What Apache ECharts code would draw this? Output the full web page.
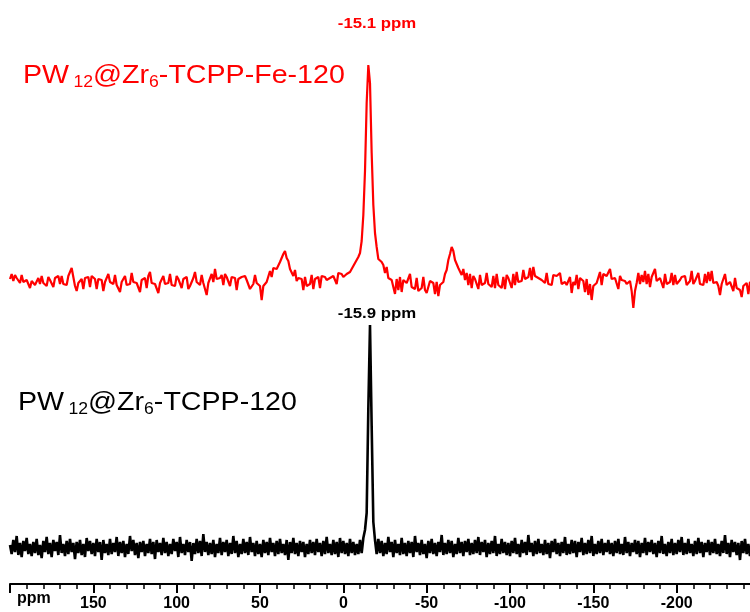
<!DOCTYPE html>
<html>
<head>
<meta charset="utf-8">
<script src="https://cdn.jsdelivr.net/npm/echarts@6/dist/echarts.min.js"></script>
<style>
html,body{margin:0;padding:0;background:#fff;}
#chart{width:750px;height:612px;}
</style>
</head>
<body>
<div id="chart"></div>
<script>
// Chemical shift sampling: first point (ppm) and spacing (ppm per point)
const ppmStart = 200;
const ppmStep = 1;

// Tick labels on the ppm axis
const tickValues = [150, 100, 50, 0, -50, -100, -150, -200];

// Series names and peak annotations
const seriesNames = ['PW12@Zr6-TCPP-Fe-120', 'PW12@Zr6-TCPP-120'];
const peakLabels = ['-15.1 ppm', '-15.9 ppm'];

// Intensity (arbitrary units) of PW12@Zr6-TCPP-Fe-120, from 200 ppm downwards
const redIntensity = [
  4, 9, 2, 8, 5, 7, 0, 8, 1, -1, 3, 2, -5, 2, 0, -2, -4, 5, -1, 7,
  0, -1, -3, 6, 3, 5, -4, 5, 4, 7, -1, 7, -1, 1, -2, 7, 6, 15, 6, -3,
  -8, 0, 1, 4, -6, 5, 3, 6, -4, 7, 5, 4, -6, 4, 2, 3, -8, 1, 1, 9,
  1, 2, -1, 8, -2, -1, -9, 1, 0, 7, -2, 0, -1, 10, 1, 3, 0, 1, -9, 3,
  2, 5, -5, 7, 11, 0, 2, -1, -1, -10, 0, -2, 7, -1, 1, 0, 9, -2, 0, -3,
  7, 4, 5, -5, 4, 2, 6, -6, -3, -4, 5, 11, 1, 1, -2, 8, 0, -2, -12, 0,
  -1, 9, 1, 14, 4, 6, 5, 8, -2, 9, 6, 7, -3, 6, 4, 5, -7, 4, 2, 6,
  5, 7, 3, 4, -6, -4, -1, 8, 0, -1, -3, -17, -3, -1, 1, 3, 12, 6, 15, 14,
  14, 13, 21, 22, 29, 32, 25, 22, 14, 13, 7, 13, 2, 5, 3, 4, -7, 6, -3, -3,
  -1, 8, -6, 4, 4, 6, -5, 7, 6, 6, 3, 4, 5, 7, 7, 8, -1, 10, 8, 9,
  6, 8, 9, 11, 11, 14, 13, 20, 18, 26, 30, 42, 68, 112, 180, 218, 200, 130, 78, 50,
  36, 24, 25, 21, 18, 10, 16, 5, 6, 3, 1, -11, 4, -7, 6, -9, 3, 2, 0, -1,
  9, -4, -4, -6, 5, -8, -6, -5, 6, -7, -10, -9, 2, 1, 0, -11, 1, -13, -2, -1,
  1, 9, 13, 23, 29, 36, 32, 23, 21, 15, 17, 8, 14, 3, 10, -2, 9, -5, 7, 4,
  5, -6, 8, -2, -1, 0, 10, -1, -2, -4, 7, -5, 9, -2, -3, -5, 6, -6, 8, 5,
  6, -5, 9, -2, 11, 1, 2, 2, 13, 4, 6, 6, 15, 3, 16, 7, 6, 5, 5, 3,
  2, 0, 10, -1, 0, -2, 8, 6, 7, 8, 10, -1, 1, 1, -2, -3, 6, -10, 1, -2,
  8, -6, 5, 3, 2, -9, 4, -12, -1, -17, -3, -1, 0, 1, 11, -2, 9, 10, 7, 7,
  14, 4, 6, 5, 4, -6, 7, 3, 3, 2, -1, -1, 2, -8, -25, -8, 0, 10, -1, 8,
  1, 12, -1, 9, -4, 6, 4, 14, 2, 4, 5, 6, -5, 9, -1, 0, 1, 10, -2, 8,
  -1, 1, 3, 6, 5, 7, -2, 0, 2, 12, -1, 2, 1, 10, -1, -1, -2, 9, 0, 11,
  2, 12, 0, 2, 1, -3, -12, -1, -1, 9, -2, 0, 1, 3, -8, 5, -5, -5, -7, -14,
  -3, -2, 0, -11, 1, 0, -2
];

// Intensity (arbitrary units) of PW12@Zr6-TCPP-120, from 200 ppm downwards
const blackIntensity = [
  3, -6, 8, -4, 12, -7, 5, -9, 7, -3, 10, -6, 4, -8, 6, -5, 9, -7, 3, -10,
  7, -4, 11, -6, 5, -9, 8, -3, 6, -7, 13, -5, 4, -8, 7, -6, 9, -4, 5, -11,
  6, -5, 8, -7, 4, -9, 10, -3, 7, -6, 5, -8, 9, -4, 6, -12, 8, -5, 4, -7,
  9, -6, 5, -4, 11, -8, 6, -5, 7, -9, 4, -6, 12, -3, 8, -7, 5, -10, 6, -4,
  7, -8, 4, -5, 9, -6, 6, -11, 8, -4, 5, -7, 10, -5, 6, -8, 4, -6, 9, -3,
  6, -9, 11, -5, 4, -7, 8, -4, 6, -13, 5, -6, 9, -5, 7, -8, 14, -4, 6, -7,
  5, -6, 8, -9, 4, -5, 10, -7, 6, -4, 8, -8, 5, -6, 12, -5, 7, -9, 4, -6,
  9, -5, 6, -7, 11, -4, 5, -8, 7, -6, 4, -9, 8, -5, 6, -7, 10, -4, 5, -8,
  7, -6, 9, -5, 4, -7, 8, -12, 6, -5, 10, -6, 5, -8, 7, -4, 6, -9, 4, -6,
  8, -5, 6, -7, 9, -4, 5, -8, 7, -6, 11, -5, 4, -7, 8, -6, 6, -9, 10, -5,
  7, -6, 5, -8, 9, -5, 6, -7, 4, -6, 8, -5, 10, 18, 35, 140, 223, 122, 26, 8,
  -6, 9, -5, 7, -8, 5, -6, 11, -4, 6, -9, 8, -5, 4, -7, 10, -6, 5, -8, 7,
  -5, 6, -9, 12, -4, 5, -7, 8, -6, 4, -10, 7, -5, 9, -6, 5, -8, 6, -4, 13,
  -7, 5, -6, 8, -5, 7, -9, 4, -6, 10, -5, 6, -8, 7, -4, 9, -7, 5, -6, 8,
  -5, 11, -7, 6, -4, 8, -9, 5, -6, 7, -5, 12, -8, 4, -6, 9, -5, 6, -7, 5,
  -8, 7, -5, 10, -6, 4, -9, 8, -5, 6, -7, 13, -4, 5, -8, 7, -6, 9, -5, 4,
  -7, 8, -6, 5, -10, 7, -4, 9, -6, 5, -8, 6, -5, 11, -7, 4, -6, 8, -5, 7,
  -9, 6, -4, 10, -7, 5, -6, 8, -5, 12, -8, 4, -6, 7, -5, 9, -7, 5, -4, 8,
  -6, 5, -8, 7, -5, 9, -6, 4, -7, 11, -5, 6, -8, 5, -4, 8, -6, 7, -9, 5,
  -5, 10, -7, 6, -4, 8, -6, 5, -9, 7, -5, 12, -6, 4, -8, 6, -5, 9, -7, 5,
  -6, 8, -4, 11, -7, 5, -6, 9, -5, 4, -8, 7, -6, 10, -5, 6, -9, 5, -4, 8,
  -7, 6, -5, 9, -6, 4, -8, 7, -5, 13, -6, 5, -9, 8, -4, 6, -7, 5, -12, 7,
  -5, 9, -6, 4, -8, 6, -5
];

// ---- layout / style (kept separate from data) ----
const redOffset = 301;   // vertical stacking offset of upper spectrum
const blackOffset = 36;  // vertical stacking offset of lower spectrum
const RED = '#ff0000';
const BLACK = '#000000';
const FONT = '"Liberation Sans", Arial, sans-serif';

function toPairs(arr, offset) {
  return arr.map((v, i) => [ppmStart - i * ppmStep, v + offset]);
}

const chart = echarts.init(document.getElementById('chart'), null, {renderer: 'canvas'});

function richLabel(color) {
  return {
    m: {fontSize: 26, fontFamily: FONT, lineHeight: 30, fill: color},
    s1: {fontSize: 16, fontFamily: FONT, lineHeight: 9, verticalAlign: 'bottom', padding: [0, 0, 0, 4], fill: color},
    s2: {fontSize: 16, fontFamily: FONT, lineHeight: 9, verticalAlign: 'bottom', fill: color}
  };
}

const option = {
  animation: false,
  backgroundColor: '#ffffff',
  grid: {left: 10, right: -10, top: 0, bottom: 28, containLabel: false, outerBoundsMode: 'none'},
  xAxis: {
    type: 'value',
    inverse: true,
    min: -250,
    max: 200,
    interval: 50,
    splitLine: {show: false},
    axisLine: {show: true, onZero: false, lineStyle: {color: '#000', width: 2}},
    axisTick: {show: true, inside: false, length: 9, lineStyle: {color: '#000', width: 2}},
    minorTick: {show: true, splitNumber: 5, length: 5, lineStyle: {color: '#000', width: 1.5}},
    axisLabel: {
      show: true,
      margin: 12,
      color: '#000',
      fontSize: 16,
      fontWeight: 'bold',
      fontFamily: FONT,
      formatter: v => (tickValues.indexOf(v) >= 0 ? String(v) : '')
    }
  },
  yAxis: {
    type: 'value',
    min: 0,
    max: 584,
    show: false
  },
  series: [
    {
      name: seriesNames[0],
      type: 'line',
      data: toPairs(redIntensity, redOffset),
      showSymbol: false,
      symbol: 'none',
      lineStyle: {color: RED, width: 2.2},
      z: 3
    },
    {
      name: seriesNames[1],
      type: 'line',
      data: toPairs(blackIntensity, blackOffset),
      showSymbol: false,
      symbol: 'none',
      lineStyle: {color: BLACK, width: 2.6},
      z: 3
    }
  ],
  graphic: [
    {
      type: 'text', x: 23, y: 76, scaleX: 1.10,
      style: {
        text: '{m|PW}{s1|12}{m|@Zr}{s2|6}{m|-TCPP-Fe-120}',
        rich: richLabel(RED), fill: RED, align: 'left', verticalAlign: 'middle'
      }
    },
    {
      type: 'text', x: 18, y: 403, scaleX: 1.10,
      style: {
        text: '{m|PW}{s1|12}{m|@Zr}{s2|6}{m|-TCPP-120}',
        rich: richLabel(BLACK), fill: BLACK, align: 'left', verticalAlign: 'middle'
      }
    },
    {
      type: 'text', x: 377, y: 24, scaleX: 1.12,
      style: {text: peakLabels[0], fill: RED, font: 'bold 15px ' + FONT, align: 'center', verticalAlign: 'middle'}
    },
    {
      type: 'text', x: 377, y: 314, scaleX: 1.12,
      style: {text: peakLabels[1], fill: BLACK, font: 'bold 15px ' + FONT, align: 'center', verticalAlign: 'middle'}
    },
    {
      type: 'text', x: 17, y: 599,
      style: {text: 'ppm', fill: BLACK, font: 'bold 16px ' + FONT, align: 'left', verticalAlign: 'middle'}
    }
  ]
};

chart.setOption(option);
</script>
</body>
</html>
